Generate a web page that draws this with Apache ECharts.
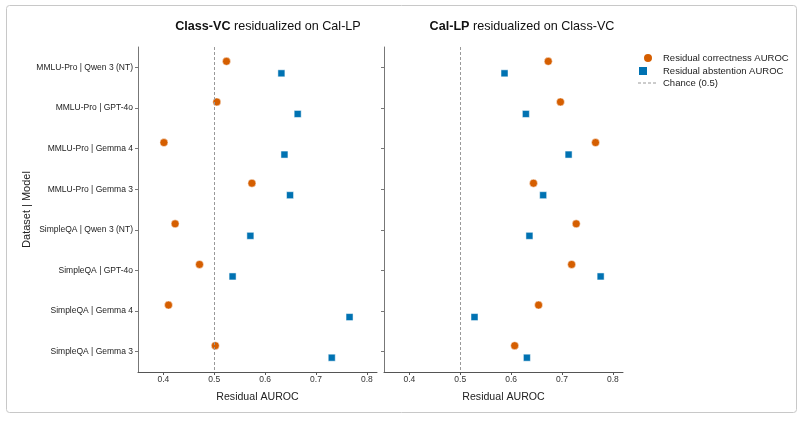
<!DOCTYPE html>
<html>
<head>
<meta charset="utf-8">
<script src="https://cdn.jsdelivr.net/npm/echarts@6/dist/echarts.min.js"></script>
<style>
html, body { margin:0; padding:0; background:#fff; }
#main { width:805px; height:421px; }
</style>
</head>
<body>
<div id="main"></div>
<script>
// rows, top to bottom
var categories = ['MMLU-Pro | Qwen 3 (NT)','MMLU-Pro | GPT-4o','MMLU-Pro | Gemma 4','MMLU-Pro | Gemma 3',
	'SimpleQA | Qwen 3 (NT)','SimpleQA | GPT-4o','SimpleQA | Gemma 4','SimpleQA | Gemma 3'];

// Class-VC residualized on Cal-LP
var leftCorrect = [0.524, 0.505, 0.401, 0.574, 0.423, 0.471, 0.410, 0.502];
var leftAbstain = [0.632, 0.664, 0.638, 0.649, 0.571, 0.536, 0.766, 0.731];

// Cal-LP residualized on Class-VC
var rightCorrect = [0.673, 0.697, 0.766, 0.644, 0.728, 0.719, 0.654, 0.607];
var rightAbstain = [0.587, 0.629, 0.713, 0.663, 0.636, 0.776, 0.528, 0.631];

var xTicks = [0.4, 0.5, 0.6, 0.7, 0.8];
var chance = 0.5;

var orange = '#D55E00';
var blue = '#0072B2';
var font = 'Liberation Sans, Arial, sans-serif';

function pairs(vals){
	var out = [];
	for (var i = 0; i < vals.length; i++) out.push([vals[i], categories[i]]);
	return out;
}

function xAx(idx){
	return {
		type:'value', gridIndex:idx, min:0.35, max:0.82,
		name:'Residual AUROC', nameLocation:'middle', nameGap:20,
		nameTextStyle:{fontSize:10.6, color:'#222', fontFamily:font},
		axisLine:{show:true, lineStyle:{color:'#555', width:1}},
		axisTick:{show:true, length:3, lineStyle:{color:'#555'}, customValues:xTicks},
		axisLabel:{fontSize:8.5, color:'#333', fontFamily:font, margin:3, customValues:xTicks,
			formatter:function(v){ return v.toFixed(1); }},
		splitLine:{show:false}
	};
}

function yAx(idx, showLabel){
	return {
		type:'category', gridIndex:idx, data:categories, inverse:true,
		name: showLabel ? 'Dataset | Model' : '', nameLocation:'middle', nameGap:87, nameRotate:90,
		nameTextStyle:{fontSize:11, color:'#222', fontFamily:font},
		axisLine:{show:true, lineStyle:{color:'#777', width:1}},
		axisTick:{show:true, alignWithLabel:true, length:3, lineStyle:{color:'#777'}},
		axisLabel:{show:showLabel, fontSize:8.5, color:'#222', fontFamily:font, margin:5},
		splitLine:{show:false}
	};
}

function dots(name, vals, idx, shape){
	var s = {
		name:name, type:'scatter', xAxisIndex:idx, yAxisIndex:idx,
		data:pairs(vals),
		symbol: shape == 'c' ? 'circle' : 'rect',
		symbolSize: shape == 'c' ? 8 : 7,
		symbolOffset: shape == 'c' ? [0, -6] : [0, 6],
		itemStyle:{color: shape == 'c' ? orange : blue, opacity:1, borderColor:'#fff', borderWidth:0.5},
		z:3
	};
	if (shape == 'c') {
		s.markLine = {
			silent:true, symbol:['none','none'], label:{show:false},
			lineStyle:{type:[3,2], color:'#999', width:1},
			data:[{xAxis:chance}]
		};
	}
	return s;
}

var dom = document.getElementById('main');
var myChart = echarts.init(dom);
var option = {
	backgroundColor:'#fff',
	animation:false,
	textStyle:{fontFamily:font},
	graphic:[{
		type:'rect', shape:{x:6.5, y:5.5, width:790, height:407, r:3},
		style:{fill:'none', stroke:'#c8c8c8', lineWidth:1}, silent:true
	}],
	title:[{
		text:'{b|Class-VC} residualized on Cal-LP',
		left:263, top:15, textAlign:'center',
		textStyle:{fontSize:12.6, fontWeight:'normal', color:'#111', fontFamily:font,
			rich:{b:{fontSize:12.6, fontWeight:'bold', color:'#111', fontFamily:font}}}
	},{
		text:'{b|Cal-LP} residualized on Class-VC',
		left:517, top:15, textAlign:'center',
		textStyle:{fontSize:12.6, fontWeight:'normal', color:'#111', fontFamily:font,
			rich:{b:{fontSize:12.6, fontWeight:'bold', color:'#111', fontFamily:font}}}
	}],
	legend:{
		orient:'vertical', left:637, top:52, itemGap:1, padding:0,
		itemWidth:20, itemHeight:10,
		textStyle:{fontSize:9.5, color:'#222', fontFamily:font},
		data:[
			{name:'Residual correctness AUROC', icon:'circle'},
			{name:'Residual abstention AUROC', icon:'square'},
			{name:'Chance (0.5)', itemStyle:{opacity:0}, lineStyle:{type:[3,2], color:'#999', width:1}}
		]
	},
	grid:[
		{left:138, top:47, width:239, height:325},
		{left:384, top:47, width:239, height:325}
	],
	xAxis:[xAx(0), xAx(1)],
	yAxis:[yAx(0, true), yAx(1, false)],
	series:[
		dots('Residual correctness AUROC', leftCorrect, 0, 'c'),
		dots('Residual abstention AUROC', leftAbstain, 0, 's'),
		dots('Residual correctness AUROC', rightCorrect, 1, 'c'),
		dots('Residual abstention AUROC', rightAbstain, 1, 's'),
		{
			name:'Chance (0.5)', type:'line', xAxisIndex:0, yAxisIndex:0, data:[],
			symbol:'none', showSymbol:false, itemStyle:{color:'#999'},
			lineStyle:{type:[3,2], color:'#999', width:1}
		}
	]
};

if (option && typeof option === "object") {
	myChart.setOption(option, true);
}
</script>
</body>
</html>
